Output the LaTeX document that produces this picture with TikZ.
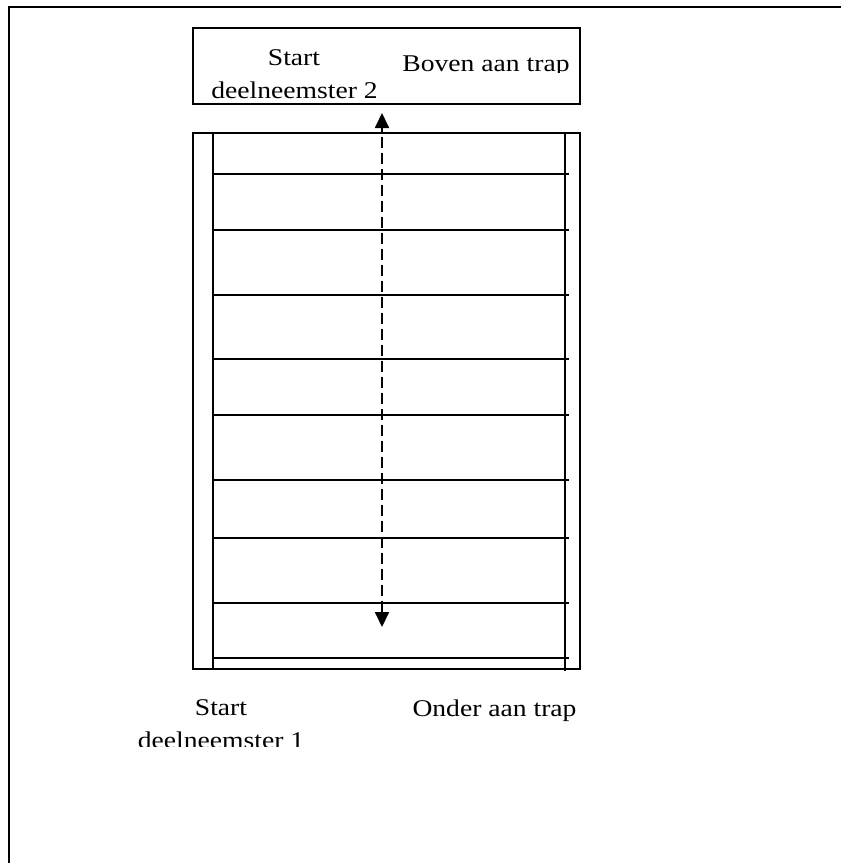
\documentclass[tikz,border=0pt]{standalone}
\usepackage{fontspec}
\setmainfont[FakeStretch=1.15]{Liberation Serif}
\usetikzlibrary{arrows.meta}
\begin{document}
\begin{tikzpicture}[x=1pt,y=-1pt,line width=1.6pt,
  lbl/.style={font=\fontsize{24}{28}\selectfont,inner sep=0pt,anchor=base},
  boxshape/.style={draw,anchor=north west,inner sep=0pt,outer sep=0pt},
  rail/.style={line width=1.6pt},
  stepline/.style={line width=1.6pt},
  walk/.style={line width=1.8pt,dash pattern=on 11pt off 5pt,
    {Triangle[width=14pt,length=15pt]}-{Triangle[width=14pt,length=15pt]}}]
\useasboundingbox (0,0) rectangle (841,863);
% page frame
\coordinate (fBL) at (9,863);
\coordinate (fTL) at (9,7);
\coordinate (fTR) at (841,7);
\draw[line width=2.2pt] (fBL) -- (fTL) -- (fTR);
% top landing box
\node[boxshape,minimum width=387pt,minimum height=76pt] (topbox) at (193,28) {};
% staircase
\node[boxshape,minimum width=387pt,minimum height=536pt] (stair) at (193,133) {};
\coordinate (lrT) at (213,133); \coordinate (lrB) at (213,669);
\coordinate (rrT) at (565,133); \coordinate (rrB) at (565,671);
\draw[rail] (lrT) -- (lrB);
\draw[rail] (rrT) -- (rrB);
\foreach \y [count=\i] in {174,230,295,359,415,480,538,603,658}{
  \coordinate (sL\i) at (213,\y);
  \coordinate (sR\i) at (569,\y);
  \draw[stepline] (sL\i) -- (sR\i);
}
% walking direction
\coordinate (arrTop) at (382,113);
\coordinate (arrBot) at (382,627);
\draw[walk] (arrBot) -- (arrTop);
% labels
\node[lbl] (start2) at (294,65) {Start};
\node[lbl] (dn2) at (294.5,98.5) {deelneemster 2};
\begin{scope}
\clip (0,0) rectangle (841,72);
\node[lbl] (boven) at (486,71) {Boven aan trap};
\end{scope}
\node[lbl] (start1) at (221,715) {Start};
\node[lbl] (onder) at (494.5,716) {Onder aan trap};
\begin{scope}
\clip (0,0) rectangle (841,746.5);
\node[lbl] (dn1) at (221,748) {deelneemster 1};
\end{scope}
\end{tikzpicture}
\end{document}
